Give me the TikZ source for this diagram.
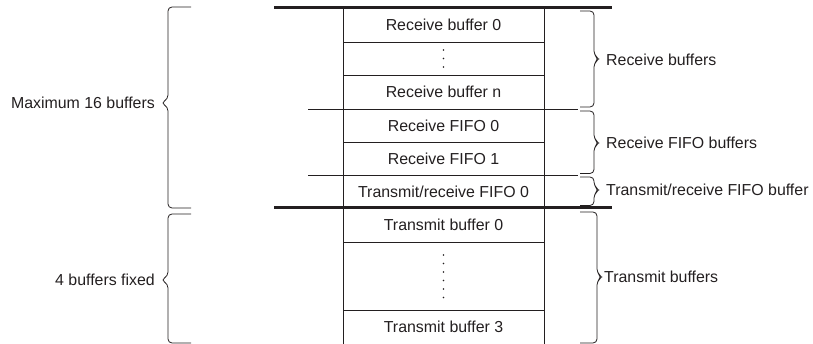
\documentclass[tikz,border=0pt]{standalone}
\usepackage{fontspec}
\setmainfont{Liberation Sans}
\definecolor{ink}{RGB}{35,31,32}
\newcommand{\BrL}[6]{% vertical x, tip x, tail x, top y, bottom y, tip y
  \draw[brc] (#3,#4) -- (#1,#4) -- (#1,{#6-4}) -- (#2,#6) -- (#1,{#6+4}) -- (#1,#5) -- (#3,#5);}
\begin{document}
\begin{tikzpicture}[x=1pt,y=-1pt,
  font=\fontsize{15.9}{18}\selectfont, text=ink,
  thin line/.style={draw=ink,line width=0.9pt},
  thick line/.style={draw=ink,line width=3pt},
  brc/.style={draw=ink,line width=0.8pt,rounded corners=4pt},
  cell/.style={inner sep=0pt,anchor=center},
  lbl/.style={inner sep=0pt},
  dot/.style={fill=ink,circle,inner sep=0pt,minimum size=1.8pt}]
\useasboundingbox (0,0) rectangle (813,344);
% cells
\node[cell] (rb0) at (443.5,25) {Receive buffer 0};
\node[cell] (rbn) at (443.5,92) {Receive buffer n};
\node[cell] (rf0) at (443.5,125.5) {Receive FIFO 0};
\node[cell] (rf1) at (443.5,158.5) {Receive FIFO 1};
\node[cell] (trf) at (443.5,191.5) {Transmit/receive FIFO 0};
\node[cell] (tb0) at (443.5,225) {Transmit buffer 0};
\node[cell] (tb3) at (443.5,327) {Transmit buffer 3};
% dots
\foreach \y in {50,58.5,67} \node[dot] at (443.5,\y) {};
\foreach \y in {255,263.5,272,280.5,289,297.5} \node[dot] at (443.5,\y) {};
% vertical lines
\draw[thin line] (343,8) -- (343,344);
\draw[thin line] (544,8) -- (544,344);
% horizontal lines
\draw[thin line] (343,42) -- (544,42);
\draw[thin line] (343,75) -- (544,75);
\draw[thin line] (308,109) -- (578,109);
\draw[thin line] (343,142) -- (544,142);
\draw[thin line] (308,175) -- (578,175);
\draw[thin line] (343,242) -- (544,242);
\draw[thin line] (343,310) -- (544,310);
\draw[thick line] (274,8) -- (612,8);
\draw[thick line] (274,208) -- (612,208);
% right braces
\BrL{594}{599}{580}{11}{107}{59}
\BrL{594}{599}{580}{111}{173.5}{143}
\BrL{594}{599}{580}{177}{205.5}{190}
\BrL{597}{602}{580}{212}{343}{277}
% left braces
\BrL{168}{161}{191}{7}{208}{103}
\BrL{168}{161}{191}{214}{343}{280}
% labels
\node[lbl,anchor=west] (l1) at (606,60) {Receive buffers};
\node[lbl,anchor=west] (l2) at (606,143) {Receive FIFO buffers};
\node[lbl,anchor=west] (l3) at (606,190) {Transmit/receive FIFO buffer};
\node[lbl,anchor=west] (l4) at (604,277) {Transmit buffers};
\node[lbl,anchor=east] (l5) at (155,103) {Maximum 16 buffers};
\node[lbl,anchor=east] (l6) at (155,280) {4 buffers fixed};
\end{tikzpicture}
\end{document}
